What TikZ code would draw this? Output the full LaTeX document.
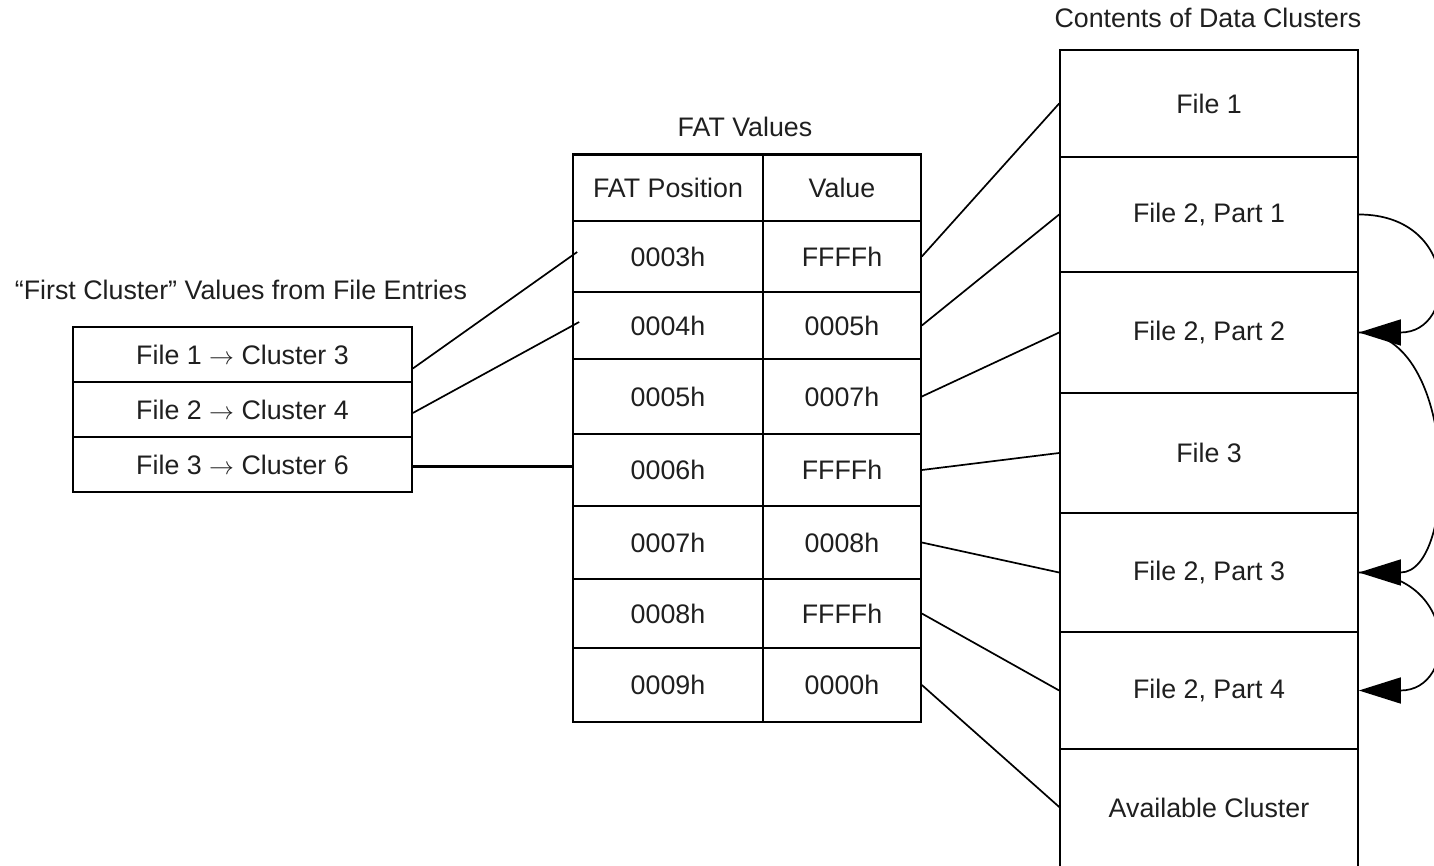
\documentclass[tikz,border=0pt]{standalone}
\usepackage{fontspec}
\setmainfont{Liberation Sans}
\usetikzlibrary{arrows.meta}
\newcommand{\diagfont}{\fontsize{26.8}{32}\selectfont}
\tikzset{
  cell/.style={draw, line width=1.7pt, inner sep=0pt, font=\diagfont, text=black!88},
  plain/.style={inner sep=0pt, font=\diagfont, text=black!88},
  link/.style={line width=1.7pt},
  chain/.style={line width=1.7pt, -{Triangle[length=42pt,width=26pt]}}
}
\begin{document}
\begin{tikzpicture}[x=1pt,y=-1pt]
\useasboundingbox (0,0) rectangle (1434,866);
% titles
\node[plain] (tdata) at (1208,18) {Contents of Data Clusters};
\node[plain] (tfat) at (745,127) {FAT Values};
\node[plain] (tfirst) at (241,290) {“First Cluster” Values from File Entries};
% left table
\node[cell, minimum width=339pt, minimum height=55pt] (l1) at (242.5,354.5) {File 1 $\rightarrow$ Cluster 3};
\node[cell, minimum width=339pt, minimum height=55pt] (l2) at (242.5,409.5) {File 2 $\rightarrow$ Cluster 4};
\node[cell, minimum width=339pt, minimum height=55pt] (l3) at (242.5,464.5) {File 3 $\rightarrow$ Cluster 6};
% FAT table
\node[cell, minimum width=190pt, minimum height=66pt] (fh) at (668,188) {FAT Position};
\node[cell, minimum width=158pt, minimum height=66pt] (vh) at (842,188) {Value};
\node[cell, minimum width=190pt, minimum height=71pt] (f3) at (668,256.5) {0003h};
\node[cell, minimum width=158pt, minimum height=71pt] (v3) at (842,256.5) {FFFFh};
\node[cell, minimum width=190pt, minimum height=67pt] (f4) at (668,325.5) {0004h};
\node[cell, minimum width=158pt, minimum height=67pt] (v4) at (842,325.5) {0005h};
\node[cell, minimum width=190pt, minimum height=75pt] (f5) at (668,396.5) {0005h};
\node[cell, minimum width=158pt, minimum height=75pt] (v5) at (842,396.5) {0007h};
\node[cell, minimum width=190pt, minimum height=72pt] (f6) at (668,470) {0006h};
\node[cell, minimum width=158pt, minimum height=72pt] (v6) at (842,470) {FFFFh};
\node[cell, minimum width=190pt, minimum height=73pt] (f7) at (668,542.5) {0007h};
\node[cell, minimum width=158pt, minimum height=73pt] (v7) at (842,542.5) {0008h};
\node[cell, minimum width=190pt, minimum height=69pt] (f8) at (668,613.5) {0008h};
\node[cell, minimum width=158pt, minimum height=69pt] (v8) at (842,613.5) {FFFFh};
\node[cell, minimum width=190pt, minimum height=74pt] (f9) at (668,685) {0009h};
\node[cell, minimum width=158pt, minimum height=74pt] (v9) at (842,685) {0000h};
\draw[line width=3pt] (fh.north west) -- (vh.north east);
% data clusters
\node[cell, minimum width=298pt, minimum height=107pt] (d1) at (1209,103.5) {File 1};
\node[cell, minimum width=298pt, minimum height=115pt] (d2) at (1209,214.5) {File 2, Part 1};
\node[cell, minimum width=298pt, minimum height=121pt] (d3) at (1209,332.5) {File 2, Part 2};
\node[cell, minimum width=298pt, minimum height=120pt] (d4) at (1209,453) {File 3};
\node[cell, minimum width=298pt, minimum height=119pt] (d5) at (1209,572.5) {File 2, Part 3};
\node[cell, minimum width=298pt, minimum height=117pt] (d6) at (1209,690.5) {File 2, Part 4};
\node[plain, minimum width=298pt, minimum height=117pt] (d7) at (1209,807.5) {Available Cluster};
\draw[line width=1.7pt] (d7.south west) -- (d7.north west) -- (d7.north east) -- (d7.south east);
% first-cluster links
\draw[link] ([yshift=-14pt]l1.east) -- ([xshift=5pt,yshift=4.5pt]f3.west);
\draw[link] ([yshift=-3.5pt]l2.east) -- ([xshift=7pt,yshift=3.5pt]f4.west);
\draw[line width=3pt] ([yshift=-1.5pt]l3.east) -- ([yshift=-1.5pt]l3.east -| f6.west);
% FAT to data links
\draw[link] (v3.east) -- (d1.west);
\draw[link] (v4.east) -- (d2.west);
\draw[link] (v5.east) -- (d3.west);
\draw[link] (v6.east) -- (d4.west);
\draw[link] (v7.east) -- (d5.west);
\draw[link] (v8.east) -- (d6.west);
\draw[link] (v9.east) -- (d7.west);
% chain arrows
\draw[chain] (d2.east) .. controls +(100,0) and +(100,0) .. (d3.east);
\draw[chain] (d3.east) .. controls +(100,0) and +(100,0) .. (d5.east);
\draw[chain] (d5.east) .. controls +(100,0) and +(100,0) .. (d6.east);
\end{tikzpicture}
\end{document}
